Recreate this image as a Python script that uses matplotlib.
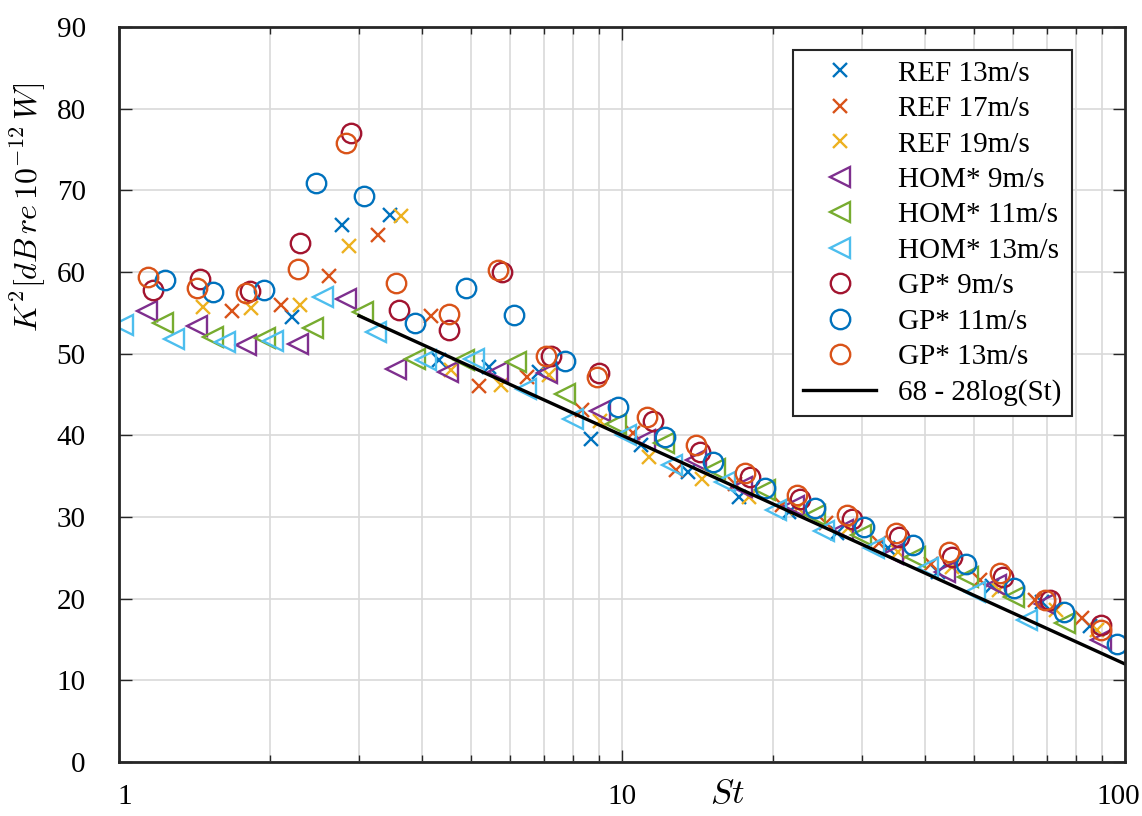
import numpy as np
import matplotlib
matplotlib.use("Agg")
import matplotlib.pyplot as plt
import matplotlib.transforms as mtransforms

plt.rcParams['font.family'] = ['Liberation Serif', 'DejaVu Serif']
plt.rcParams['mathtext.fontset'] = 'cm'

# REF
ref13_st = [2.21, 2.77, 3.45, 4.33, 5.45, 6.84, 8.67, 10.9, 13.5, 17.1, 21.5, 26.7, 33.8, 42.5, 54.5, 68.3, 85.1]
ref13_k = [54.5, 65.7, 67.0, 49.2, 48.4, 47.8, 39.6, 38.8, 35.5, 32.5, 30.6, 28.0, 26.2, 23.3, 21.5, 19.6, 16.6]
ref17_st = [1.678, 2.097, 2.62, 3.28, 4.17, 5.20, 6.48, 8.32, 10.5, 12.8, 16.8, 20.8, 25.5, 32.4, 41.2, 51.5, 66.3, 82.0]
ref17_k = [55.2, 56.0, 59.5, 64.5, 54.6, 46.0, 47.2, 43.1, 40.3, 35.75, 34.1, 31.5, 29.3, 26.8, 24.3, 22.3, 19.8, 17.6]
ref19_st = [1.466, 1.834, 2.285, 2.87, 3.64, 4.57, 5.74, 7.16, 9.06, 11.3, 14.4, 17.9, 22.4, 28.2, 35.4, 45.2, 56.2, 72.8, 88.0]
ref19_k = [55.75, 55.6, 56.0, 63.2, 66.9, 48.0, 46.2, 47.4, 41.7, 37.4, 34.7, 32.5, 31.05, 28.6, 25.7, 23.9, 21.1, 18.6, 16.2]

# HOM*
hom9_st = [1.135, 1.426, 1.79, 2.27, 2.83, 3.55, 4.50, 5.66, 7.1, 9.06, 11.1, 14.0, 17.3, 22.0, 27.5, 34.6, 43.8, 55.4, 69.4, 89.4]
hom9_k = [55.2, 53.4, 51.0, 51.2, 56.65, 48.1, 47.8, 47.8, 47.6, 43.0, 39.4, 37.0, 33.7, 31.4, 28.4, 25.5, 23.3, 21.7, 19.4, 14.9]
hom11_st = [1.224, 1.538, 1.948, 2.43, 3.05, 3.88, 4.86, 6.16, 7.69, 9.75, 12.1, 15.3, 19.2, 24.2, 29.8, 38.2, 48.8, 60.2, 76.1]
hom11_k = [53.8, 52.0, 51.9, 53.1, 55.1, 49.4, 49.2, 49.0, 45.1, 41.4, 39.0, 35.9, 33.3, 30.3, 27.8, 25.1, 22.7, 20.2, 17.0]
hom13_st = [1.02, 1.286, 1.623, 2.02, 2.545, 3.25, 4.08, 5.09, 6.44, 8.0, 10.2, 12.6, 16.0, 20.2, 25.2, 31.7, 40.6, 50.4, 63.8]
hom13_k = [53.5, 51.8, 51.45, 51.6, 56.9, 52.6, 49.2, 49.4, 45.7, 42.0, 40.0, 36.4, 34.3, 30.9, 28.3, 26.2, 23.7, 20.85, 17.4]

# GP*
gp9_st = [1.166, 1.448, 1.818, 2.285, 2.895, 3.6, 4.54, 5.77, 7.21, 9.0, 11.5, 14.3, 18.0, 22.6, 28.6, 35.6, 45.2, 57.3, 71.1, 89.4]
gp9_k = [57.8, 59.1, 57.7, 63.5, 77.0, 55.3, 52.9, 60.0, 49.7, 47.6, 41.7, 38.0, 34.9, 32.2, 29.8, 27.6, 25.1, 22.7, 19.8, 16.8]
gp11_st = [1.234, 1.538, 1.94, 2.46, 3.07, 3.87, 4.89, 6.11, 7.69, 9.8, 12.2, 15.2, 19.2, 24.2, 30.3, 37.9, 48.4, 60.2, 75.5, 96.5]
gp11_k = [59.0, 57.5, 57.8, 70.85, 69.35, 53.8, 58.0, 54.7, 49.1, 43.5, 39.8, 36.75, 33.5, 31.05, 28.8, 26.6, 24.3, 21.25, 18.4, 14.4]
gp13_st = [1.14, 1.426, 1.79, 2.274, 2.83, 3.55, 4.52, 5.66, 7.05, 8.9, 11.2, 14.0, 17.6, 22.3, 28.0, 35.1, 44.6, 56.4, 69.4, 89.4]
gp13_k = [59.4, 58.0, 57.4, 60.4, 75.75, 58.6, 54.8, 60.2, 49.7, 47.2, 42.3, 38.8, 35.4, 32.7, 30.2, 28.0, 25.7, 23.1, 19.8, 16.2]

series = [
    (ref13_st, ref13_k, 'REF 13m/s', 'x', '#0072BD'),
    (ref17_st, ref17_k, 'REF 17m/s', 'x', '#D95319'),
    (ref19_st, ref19_k, 'REF 19m/s', 'x', '#EDB120'),
    (hom9_st, hom9_k, 'HOM* 9m/s', '<', '#7E2F8E'),
    (hom11_st, hom11_k, 'HOM* 11m/s', '<', '#77AC30'),
    (hom13_st, hom13_k, 'HOM* 13m/s', '<', '#4DBEEE'),
    (gp9_st, gp9_k, 'GP* 9m/s', 'o', '#A2142F'),
    (gp11_st, gp11_k, 'GP* 11m/s', 'o', '#0072BD'),
    (gp13_st, gp13_k, 'GP* 13m/s', 'o', '#D95319'),
]

fig = plt.figure(figsize=(11.42, 8.16), dpi=100)
ax = fig.add_axes([119/1142, 1-762/816, (1125-119)/1142, (762-27)/816])

for st, k, name, m, c in series:
    ms = 10 if m == 'x' else 14
    ax.plot(st, k, linestyle='none', marker=m, markersize=ms, markerfacecolor='none',
            markeredgecolor=c, markeredgewidth=1.7, label=name)

st_fit = np.array([3, 100])
ax.plot(st_fit, 68 - 28*np.log10(st_fit), color='black', lw=2.4, label='68 - 28log(St)')

ax.set_xscale('log')
ax.set_xlim(1, 100)
ax.set_ylim(0, 90)
ax.set_xticks([1, 10, 100], labels=['1', '10', '100'], fontsize=21)
ax.set_xticks([i*d for d in (1, 10) for i in range(2, 10)], minor=True)
ax.xaxis.set_minor_formatter(plt.NullFormatter())
ax.set_yticks(range(0, 91, 10), labels=[str(v) for v in range(0, 91, 10)], fontsize=21)
ax.tick_params(which='both', direction='in', top=True, right=True,
               color='#262626', width=1.0)
ax.tick_params(which='major', length=9)
ax.tick_params(which='minor', length=5)
ax.tick_params(axis='y', pad=24)
ax.tick_params(axis='x', pad=16)
ax.grid(True, which='major', color='#d9d9d9', lw=1.2)
ax.grid(True, which='minor', axis='x', color='#d9d9d9', lw=1.2)
ax.set_axisbelow(True)
for s in ax.spines.values():
    s.set_color('#262626')
    s.set_linewidth(2.0)

# edge tick labels nudged inward, like the original
xlabs = ax.get_xticklabels()
xlabs[0].set_transform(xlabs[0].get_transform() + mtransforms.ScaledTranslation(6/100, 0, fig.dpi_scale_trans))
xlabs[-1].set_transform(xlabs[-1].get_transform() + mtransforms.ScaledTranslation(-7/100, 0, fig.dpi_scale_trans))

ax.set_xlabel('$St$', fontsize=25, labelpad=0)
ax.xaxis.set_label_coords(0.605, -0.022)
ax.set_ylabel('$K^2[dB\\,re\\,10^{-12}\\,W]$', fontsize=23)
ax.yaxis.set_label_coords(-0.071, 0.754)

leg = ax.legend(loc='upper left', bbox_to_anchor=((793-119)/1006, (762-50)/735), borderaxespad=0,
                fontsize=21, fancybox=False, framealpha=1, edgecolor='#262626',
                handlelength=2.5, handletextpad=0.75, labelspacing=0.31, borderpad=0.35)
leg.get_frame().set_linewidth(1.5)

fig.savefig('out.png', dpi=100)
